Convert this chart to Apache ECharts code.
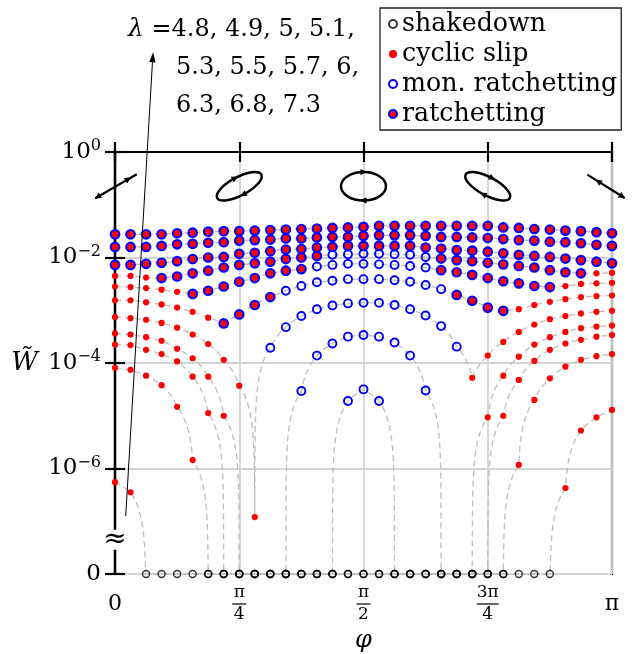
<!DOCTYPE html>
<html>
<head>
<meta charset="utf-8">
<script src="https://cdn.jsdelivr.net/npm/echarts@6/dist/echarts.min.js"></script>
<style>
  html, body { margin: 0; padding: 0; background: #fff; }
  #chart { width: 638px; height: 654px; }
</style>
</head>
<body>
<div id="chart"></div>
<script>
// Loading direction phi is sampled at k * pi/32, k = 0..32.
const phiSteps = [0,1,2,3,4,5,6,7,8,9,10,11,12,13,14,15,16,17,18,19,20,21,22,23,24,25,26,27,28,29,30,31,32];
const lambdas = [4.8, 4.9, 5, 5.1, 5.3, 5.5, 5.7, 6, 6.3, 6.8, 7.3];

// log10 of the dissipation measure W~ for each load level; _ means W~ = 0 (shakedown)
const _ = null;
const logW_4_8 = [-6.26,-6.45, _,_,_,_,_,_,_,_,_,_, _,_,_,_,_,_,_,_,_,_, _,_,_,_,_,_,_, -6.37,-5.28,-5.03,-4.89];
const logW_4_9 = [-4.09,-4.13,-4.24,-4.42,-4.83,-5.84, _,_,_,_,_,_,_,_,_,_, _,_,_,_,_,_,_,_,_,_, -5.93,-4.70,-4.29,-4.07,-3.94,-3.87,-3.83];
const logW_5_0 = [-3.65,-3.66,-3.75,-3.83,-3.97,-4.26,-4.95, _,_,_,_,_,_,_,_, -4.72,-4.50,-4.72, _,_,_,_,_,_,_, -5.00,-4.32,-3.96,-3.75,-3.63,-3.56,-3.50,-3.47];
const logW_5_1 = [-3.44,-3.46,-3.51,-3.58,-3.73,-3.91,-4.26,-5.00, _,_,_,_, -4.53,-3.86,-3.63,-3.50,-3.47,-3.50,-3.61,-3.86,-4.52, _,_,_, -5.03,-4.24,-3.88,-3.65,-3.51,-3.41,-3.34,-3.31,-3.29];
const logW_5_3 = [-3.13,-3.15,-3.18,-3.24,-3.33,-3.46,-3.64,-3.94,-4.43,-6.92, -3.71,-3.32,-3.11,-2.98,-2.91,-2.87,-2.86,-2.86,-2.90,-2.98,-3.10,-3.30,-3.69, -4.28,-3.86,-3.60,-3.41,-3.27,-3.17,-3.11,-3.06,-3.03,-3.01];
const logW_5_5 = [-2.81,-2.81,-2.85,-2.89,-2.95,-3.03,-3.14, -3.25,-3.08,-2.90,-2.75, -2.63,-2.54,-2.47,-2.44,-2.41,-2.41,-2.41,-2.43,-2.46,-2.52,-2.60, -2.71,-2.82,-2.95,-3.01, -2.98,-2.90,-2.84,-2.79,-2.75,-2.73,-2.72];
const logW_5_7 = [-2.55,-2.56,-2.58,-2.61,-2.65, -2.69,-2.63,-2.55,-2.46,-2.39,-2.30,-2.25,-2.22, -2.17,-2.14,-2.12,-2.12,-2.13,-2.14,-2.16,-2.19, -2.24,-2.28,-2.33,-2.39,-2.45,-2.49,-2.54,-2.56, -2.54,-2.50,-2.49,-2.48];
const logW_6_0 = [-2.35,-2.35,-2.38, -2.39,-2.36,-2.30,-2.25,-2.19,-2.14,-2.11,-2.08,-2.03,-2.00,-1.97, -1.95,-1.94,-1.93,-1.93,-1.94,-1.95,-1.99, -2.02,-2.05,-2.07,-2.10,-2.13,-2.16,-2.19,-2.24,-2.28,-2.30, -2.30,-2.29];
const logW_6_3 = [-2.14,-2.14,-2.12,-2.10,-2.07,-2.03,-2.00,-1.99,-1.93,-1.91,-1.88,-1.85,-1.84,-1.81,-1.80,-1.78,-1.78,-1.78,-1.78,-1.78,-1.81,-1.83,-1.86,-1.87,-1.89,-1.92,-1.95,-1.97,-1.99,-2.02,-2.05,-2.08,-2.11];
const logW_6_8 = [-1.80,-1.80,-1.80,-1.78,-1.75,-1.74,-1.72,-1.71,-1.68,-1.67,-1.66,-1.64,-1.64,-1.62,-1.61,-1.61,-1.59,-1.58,-1.58,-1.58,-1.59,-1.61,-1.61,-1.62,-1.63,-1.65,-1.67,-1.68,-1.70,-1.71,-1.73,-1.76,-1.78];
const logW_7_3 = [-1.56,-1.56,-1.56,-1.56,-1.54,-1.53,-1.51,-1.50,-1.50,-1.49,-1.48,-1.47,-1.46,-1.45,-1.44,-1.43,-1.42,-1.40,-1.40,-1.40,-1.40,-1.40,-1.40,-1.40,-1.40,-1.43,-1.44,-1.46,-1.47,-1.49,-1.50,-1.52,-1.54];

// Response at each point: S shakedown, C cyclic slip, M monotonic ratchetting, R ratchetting
const type_4_8 = 'CCSSSSSSSSSSSSSSSSSSSSSSSSSSSCCCC';
const type_4_9 = 'CCCCCCSSSSSSSSSSSSSSSSSSSSCCCCCCC';
const type_5_0 = 'CCCCCCCSSSSSSSSMMMSSSSSSSCCCCCCCC';
const type_5_1 = 'CCCCCCCCSSSSMMMMMMMMMSSSCCCCCCCCC';
const type_5_3 = 'CCCCCCCCCCMMMMMMMMMMMMMCCCCCCCCCC';
const type_5_5 = 'CCCCCCCRRRRMMMMMMMMMMMRRRRCCCCCCC';
const type_5_7 = 'CCCCCRRRRRRRRMMMMMMMMRRRRRRRRCCCC';
const type_6_0 = 'CCCRRRRRRRRRRRMMMMMMMRRRRRRRRRRCC';
const type_6_3 = 'RRRRRRRRRRRRRRRRRRRRRRRRRRRRRRRRR';
const type_6_8 = 'RRRRRRRRRRRRRRRRRRRRRRRRRRRRRRRRR';
const type_7_3 = 'RRRRRRRRRRRRRRRRRRRRRRRRRRRRRRRRR';

const logWByLambda = [logW_4_8, logW_4_9, logW_5_0, logW_5_1, logW_5_3, logW_5_5, logW_5_7, logW_6_0, logW_6_3, logW_6_8, logW_7_3];
const typeByLambda = [type_4_8, type_4_9, type_5_0, type_5_1, type_5_3, type_5_5, type_5_7, type_6_0, type_6_3, type_6_8, type_7_3];

// Axis ticks
const phiTicks = [0, 8, 16, 24, 32];
const phiTickLabels = [['0'], ['π', '4'], ['π', '2'], ['3π', '4'], ['π']];
const logTicks = [-8, -6, -4, -2, 0];

const typeNames = { S: 'shakedown', C: 'cyclic slip', M: 'mon. ratchetting', R: 'ratchetting' };

// Positions of the loading-path sketches along phi
const pathSketchPhi = [0, 8, 16, 24, 32];

// ---------------------------------------------------------------
const SERIF = "'DejaVu Serif', 'Liberation Serif', serif";
const ZERO_LEVEL = -8;      // axis height standing for W~ = 0
const BREAK_LEVEL = -7.35;  // axis break mark
const SKETCH_LEVEL = -0.65; // height of the loading-path sketches

const curves = lambdas.map((lam, i) => ({ lambda: lam, logW: logWByLambda[i], type: typeByLambda[i] }));

const groups = { S: [], C: [], M: [], R: [] };
curves.forEach(c => {
  c.logW.forEach((v, i) => {
    groups[c.type[i]].push([phiSteps[i], v === null ? ZERO_LEVEL : v]);
  });
});

const toW = v => (v === null ? 0 : Math.pow(10, v));
const toLevel = w => (w > 1e-8 ? Math.log10(w) : ZERO_LEVEL);

// Dashed guide through each curve, joined linearly in W~ so it plunges to zero as W~ does
function renderGuide(params, api) {
  const c = curves[params.dataIndex];
  const SUB = 60;
  const pts = [api.coord([phiSteps[0], toLevel(toW(c.logW[0]))])];
  for (let i = 1; i < c.logW.length; i++) {
    const w0 = toW(c.logW[i - 1]), w1 = toW(c.logW[i]);
    const x0 = phiSteps[i - 1], x1 = phiSteps[i];
    if (w0 === 0 && w1 === 0) { pts.push(api.coord([x1, ZERO_LEVEL])); continue; }
    for (let s = 1; s <= SUB; s++) {
      const t = s / SUB;
      pts.push(api.coord([x0 + (x1 - x0) * t, toLevel(w0 + (w1 - w0) * t)]));
    }
  }
  return {
    type: 'polyline',
    shape: { points: pts },
    style: { stroke: '#bdbdbd', lineWidth: 1.3, lineDash: [6, 4], fill: null }
  };
}

function arrowHead(x, y, dir) {
  // small filled triangle pointing along +x (dir = 1) or -x (dir = -1)
  return {
    type: 'polygon',
    shape: { points: [[x + 3.5 * dir, y], [x - 3 * dir, y - 3.2], [x - 3 * dir, y + 3.2]] },
    style: { fill: '#000' }
  };
}

const sketchShapes = [
  { kind: 'line', tilt: 30, dx: 1, half: 24, arrows: [[-21, -1], [14, 1]] },
  { kind: 'ellipse', tilt: 28, a: 25, b: 9.2 },
  { kind: 'ellipse', tilt: 0, a: 22.5, b: 14.2 },
  { kind: 'ellipse', tilt: -28, a: 25, b: 9.2 },
  { kind: 'line', tilt: -32, dx: -6, half: 22, arrows: [[-9, -1], [19, 1]] }
];

function renderSketch(params, api) {
  const s = sketchShapes[params.dataIndex];
  const p = api.coord([api.value(0), api.value(1)]);
  const children = [];
  if (s.kind === 'line') {
    children.push({ type: 'line', shape: { x1: -s.half, y1: 0, x2: s.half, y2: 0 }, style: { stroke: '#000', lineWidth: 2.2 } });
    s.arrows.forEach(a => children.push(arrowHead(a[0], 0, a[1])));
  } else {
    children.push({ type: 'ellipse', shape: { cx: 0, cy: 0, rx: s.a, ry: s.b }, style: { stroke: '#000', lineWidth: 2.5, fill: null } });
    children.push(arrowHead(0, -s.b, 1));
    children.push(arrowHead(0, s.b, -1));
  }
  return {
    type: 'group',
    x: p[0] + (s.dx || 0),
    y: p[1],
    rotation: s.tilt * Math.PI / 180,
    children
  };
}

const chart = echarts.init(document.getElementById('chart'));

const axisLineStyle = { color: '#000', width: 2.2 };
const tickStyle = { show: true, inside: true, length: 10, lineStyle: { color: '#000', width: 2.2 } };
const gridLine = { show: true, lineStyle: { color: '#d4d4d4', width: 1.8 } };

// Fraction tick labels: numerator, a gap where the fraction bar goes, denominator
const LABEL_MARGIN = 10, NUM_H = 18, GAP_H = 4, DEN_H = 18;

function phiLabel(v) {
  const i = phiTicks.indexOf(v);
  if (i < 0) return '';
  const parts = phiTickLabels[i];
  if (parts.length === 1) return '{whole|' + parts[0] + '}';
  return '{num|' + parts[0] + '}\n{gap| }\n{den|' + parts[1] + '}';
}

function logLabel(v) {
  if (logTicks.indexOf(v) < 0) return '';
  if (v === ZERO_LEVEL) return '0';
  return '10{sup|' + (v < 0 ? '\u2212' + (-v) : String(v)) + '}';
}

chart.setOption({
  animation: false,
  backgroundColor: '#fff',
  grid: {
    left: 115, top: 152, right: 26, bottom: 80,
    outerBoundsMode: 'none', containLabel: false,
    show: true, borderColor: '#000', borderWidth: 2.2
  },
  legend: {
    left: 380, top: 8, orient: 'vertical',
    itemWidth: 8, itemHeight: 8, itemGap: 4,
    padding: [3, 4, 3, 8],
    borderColor: '#222', borderWidth: 1.3, backgroundColor: '#fff',
    textStyle: { fontFamily: SERIF, fontSize: 25.3, color: '#000', lineHeight: 26 },
    data: [typeNames.S, typeNames.C, typeNames.M, typeNames.R],
    z: 10
  },
  xAxis: [
    {
      type: 'value', min: 0, max: 32, interval: 8, position: 'bottom',
      name: 'φ', nameLocation: 'middle', nameGap: 47,
      nameTextStyle: { fontFamily: SERIF, fontSize: 24, fontStyle: 'italic', color: '#000' },
      axisLine: { show: true, lineStyle: axisLineStyle },
      axisTick: tickStyle,
      splitLine: gridLine,
      axisLabel: {
        margin: LABEL_MARGIN, color: '#000', fontFamily: SERIF, formatter: phiLabel,
        rich: {
          whole: { fontFamily: SERIF, fontSize: 22, lineHeight: NUM_H + GAP_H + DEN_H },
          num: { fontFamily: SERIF, fontSize: 17, lineHeight: NUM_H, align: 'center' },
          gap: { fontSize: 2, lineHeight: GAP_H },
          den: { fontFamily: SERIF, fontSize: 17, lineHeight: DEN_H, align: 'center' }
        }
      }
    },
    {
      type: 'value', min: 0, max: 32, interval: 8, position: 'top',
      axisLine: { show: true, lineStyle: axisLineStyle },
      axisTick: tickStyle, axisLabel: { show: false }, splitLine: { show: false }
    }
  ],
  yAxis: [
    {
      type: 'value', min: ZERO_LEVEL, max: 0, interval: 2, position: 'left',
      name: 'W\u0303', nameLocation: 'middle', nameGap: 77, nameRotate: 0,
      nameTextStyle: { fontFamily: SERIF, fontSize: 26, fontStyle: 'italic', color: '#000' },
      axisLine: { show: true, lineStyle: axisLineStyle },
      axisTick: tickStyle,
      splitLine: gridLine,
      axisLabel: {
        margin: 14, color: '#000', fontFamily: SERIF, fontSize: 23, formatter: logLabel,
        rich: { sup: { fontFamily: SERIF, fontSize: 16, padding: [0, 0, 12, 0] } }
      }
    },
    {
      type: 'value', min: ZERO_LEVEL, max: 0, interval: 2, position: 'right',
      axisLine: { show: true, lineStyle: axisLineStyle },
      axisTick: tickStyle, axisLabel: { show: false }, splitLine: { show: false }
    }
  ],
  series: [
    {
      type: 'custom', name: 'guides', renderItem: renderGuide, silent: true, z: 2,
      data: curves.map((c, i) => [i, 0])
    },
    {
      type: 'custom', name: 'paths', renderItem: renderSketch, silent: true, z: 4, clip: false,
      data: pathSketchPhi.map(p => [p, SKETCH_LEVEL])
    },
    {
      type: 'scatter', name: typeNames.S, data: groups.S, clip: false, z: 5,
      symbol: 'circle', symbolSize: 7,
      itemStyle: { color: 'rgba(255,255,255,0)', borderColor: '#000', borderWidth: 1.4 }
    },
    {
      type: 'scatter', name: typeNames.C, data: groups.C, clip: false, z: 6,
      symbol: 'circle', symbolSize: 6.2,
      itemStyle: { color: '#ff0000', borderWidth: 0, opacity: 1 }
    },
    {
      type: 'scatter', name: typeNames.M, data: groups.M, clip: false, z: 7,
      symbol: 'circle', symbolSize: 8,
      itemStyle: { color: 'rgba(255,255,255,0)', borderColor: '#0000ff', borderWidth: 1.9, opacity: 1 }
    },
    {
      type: 'scatter', name: typeNames.R, data: groups.R, clip: false, z: 8,
      symbol: 'circle', symbolSize: 8.6,
      itemStyle: { color: '#ff0000', borderColor: '#0000ff', borderWidth: 2.1, opacity: 1 }
    }
  ]
});

// Annotations placed in data coordinates
function px(x, y) { return chart.convertToPixel({ xAxisIndex: 0, yAxisIndex: 0 }, [x, y]); }

const tail = px(0.69, -6.9);
const head = px(2.45, 1.89);
const ang = Math.atan2(head[1] - tail[1], head[0] - tail[0]);
const ah = 10, aw = 3.2;
const baseX = head[0] - ah * Math.cos(ang), baseY = head[1] - ah * Math.sin(ang);
const brk = px(0, BREAK_LEVEL);

// fraction bars under the numerators of the phi tick labels
const fractionBars = [];
phiTicks.forEach((t, i) => {
  const parts = phiTickLabels[i];
  if (parts.length < 2) return;
  const p = px(t, ZERO_LEVEL);
  const half = parts[0].length > 1 ? 11 : 7;
  const yBar = p[1] + LABEL_MARGIN + NUM_H + GAP_H / 2;
  fractionBars.push({
    type: 'line', z: 20,
    shape: { x1: p[0] - half, y1: yBar, x2: p[0] + half, y2: yBar },
    style: { stroke: '#000', lineWidth: 1.2 }
  });
});

const lamText = lambdas.map(String);

chart.setOption({
  graphic: fractionBars.concat([
    {
      type: 'line', z: 20,
      shape: { x1: tail[0], y1: tail[1], x2: baseX, y2: baseY },
      style: { stroke: '#000', lineWidth: 1 }
    },
    {
      type: 'polygon', z: 20,
      shape: { points: [
        [head[0], head[1]],
        [baseX + aw * Math.sin(ang), baseY - aw * Math.cos(ang)],
        [baseX - aw * Math.sin(ang), baseY + aw * Math.cos(ang)]
      ] },
      style: { fill: '#000' }
    },
    {
      type: 'rect', z: 20,
      shape: { x: brk[0] - 8, y: brk[1] - 10, width: 16, height: 20 },
      style: { fill: '#fff' }
    },
    {
      type: 'text', z: 21, x: brk[0], y: brk[1],
      style: { text: '\u2248', font: '28px ' + SERIF, fill: '#000', align: 'center', verticalAlign: 'middle' }
    },
    {
      type: 'text', z: 20, left: 128, top: 17,
      style: {
        text: '{it|λ} =' + lamText.slice(0, 4).join(', ') + ',',
        font: '24px ' + SERIF, fill: '#000',
        rich: { it: { fontFamily: SERIF, fontSize: 25, fontStyle: 'italic' } }
      }
    },
    {
      type: 'text', z: 20, left: 176, top: 56,
      style: { text: lamText.slice(4, 8).join(', ') + ',', font: '24px ' + SERIF, fill: '#000' }
    },
    {
      type: 'text', z: 20, left: 176, top: 94,
      style: { text: lamText.slice(8).join(', '), font: '24px ' + SERIF, fill: '#000' }
    }
  ])
});
</script>
</body>
</html>
